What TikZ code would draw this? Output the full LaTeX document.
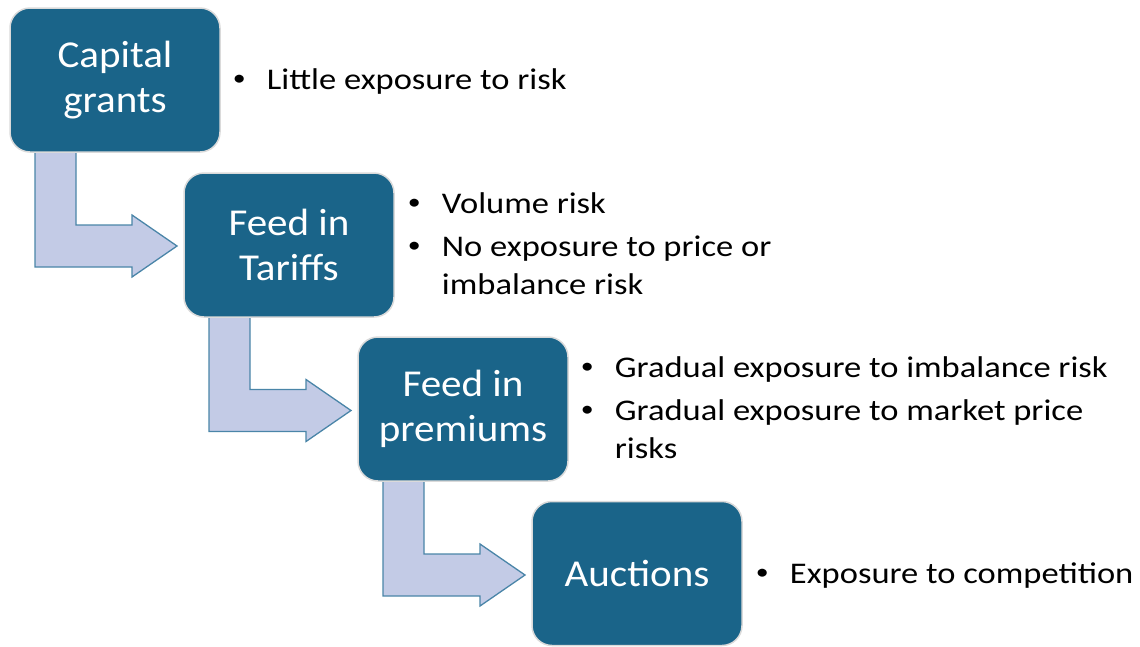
\documentclass[tikz,border=0pt]{standalone}
\usepackage{fontspec}
\setmainfont{Carlito}
\newfontfamily\boxfont[FakeStretch=1.08]{Carlito}
\newfontfamily\bulletfont[FakeStretch=1.15]{Carlito}
\usetikzlibrary{calc}
\definecolor{boxblue}{HTML}{1A6489}
\definecolor{boxedge}{HTML}{DADADA}
\definecolor{arrowfill}{HTML}{C3CBE6}
\definecolor{arrowedge}{HTML}{4A85A8}
\tikzset{
  stagebox/.style={draw=boxedge, line width=1.5pt, fill=boxblue, rounded corners=20pt,
    minimum width=210pt, minimum height=144pt, text=white, align=center,
    font=\boxfont\fontsize{38}{45}\selectfont, inner sep=0pt},
  bendarrow/.style={draw=arrowedge, line width=1.3pt, fill=arrowfill, line join=miter},
  bullets/.style={anchor=west, inner sep=0pt, align=left, text=black,
    font=\bulletfont\fontsize{30}{38}\selectfont}
}
\newcommand{\dotb}{\raisebox{0.12em}{\scalebox{0.75}{\textbullet}}}
\newcommand{\bl}{\makebox[34pt][l]{\dotb}}
\begin{document}
\begin{tikzpicture}[x=1pt,y=-1pt]
\useasboundingbox (0,0) rectangle (1140,646);
% arrows (drawn first, tucked under boxes)
\foreach \i in {0,1,2}{
  \begin{scope}[shift={(174*\i,164.5*\i)}]
    \draw[bendarrow] (35,146) -- (76,146) -- (76,225) -- (132,225) -- (132,215)
      -- (177,246) -- (132,277) -- (132,267) -- (35,267) -- cycle;
  \end{scope}
}
\node[stagebox] (b1) at (115,80) {Capital\\grants};
\node[stagebox] (b2) at (289,245) {Feed in\\Tariffs};
\node[stagebox] (b3) at (463,409) {Feed in\\premiums};
\node[stagebox] (b4) at (637,573.5) {Auctions};
\node[bullets] (t1) at ($(b1.east)+(12,1)$) {\bl Little exposure to risk};
\node[bullets] (t2) at ($(b2.east)+(13,1)$) {%
  \begin{tabular}{@{}p{34pt}@{}l@{}}
  \dotb & Volume risk\\[5pt]
  \dotb & No exposure to price or\\
   & imbalance risk
  \end{tabular}};
\node[bullets] (t3) at ($(b3.east)+(12,1)$) {%
  \begin{tabular}{@{}p{34pt}@{}l@{}}
  \dotb & Gradual exposure to imbalance risk\\[5pt]
  \dotb & Gradual exposure to market price\\
   & risks
  \end{tabular}};
\node[bullets] (t4) at ($(b4.east)+(13,2)$) {\bl Exposure to competition};
\end{tikzpicture}
\end{document}
